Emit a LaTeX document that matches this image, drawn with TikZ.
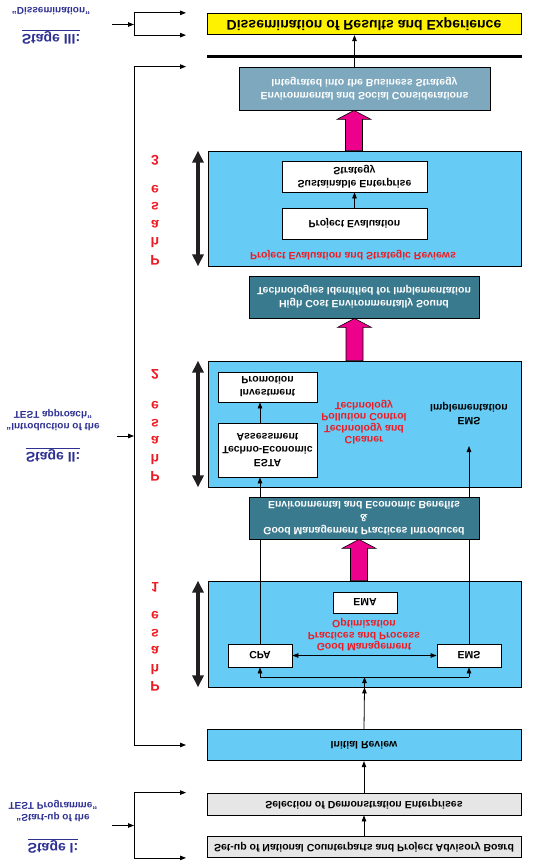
\documentclass[tikz,border=0pt]{standalone}
\usepackage{fontspec}
\setmainfont{Liberation Sans}
\usetikzlibrary{arrows.meta,calc}

\definecolor{skyblue}{RGB}{102,204,245}
\definecolor{tealbox}{RGB}{58,122,143}
\definecolor{socialgrey}{RGB}{125,168,190}
\definecolor{dissemyellow}{RGB}{255,242,0}
\definecolor{lightgrey}{RGB}{230,230,230}
\definecolor{stageblue}{RGB}{46,49,146}
\definecolor{phasered}{RGB}{237,28,36}
\definecolor{pinkarrow}{RGB}{236,0,140}
\definecolor{arrowgrey}{RGB}{35,31,32}

\tikzset{
  upsidedown/.style={yscale=-1},
  stepbox/.style={upsidedown,draw=black,line width=0.8pt,inner sep=0pt,align=center,
    font=\fontsize{10.5}{13}\selectfont\bfseries},
  phasebox/.style={stepbox,fill=skyblue},
  darkbox/.style={stepbox,fill=tealbox,text=white},
  whitebox/.style={stepbox,fill=white},
  plaintext/.style={upsidedown,align=center,inner sep=0pt,font=\fontsize{10.5}{13}\selectfont\bfseries},
  redtext/.style={plaintext,text=phasered,font=\fontsize{10.5}{11.5}\selectfont\bfseries},
  stagetitle/.style={plaintext,text=stageblue,font=\fontsize{14}{16}\selectfont\bfseries},
  stagesub/.style={plaintext,text=stageblue,font=\fontsize{10}{12}\selectfont\bfseries},
  phaselbl/.style={plaintext,text=phasered,font=\fontsize{14}{17.5}\selectfont\bfseries},
  arr/.style={-{Triangle[length=6pt,width=4.5pt]},line width=0.8pt},
  arrboth/.style={{Triangle[length=6pt,width=4.5pt]}-{Triangle[length=6pt,width=4.5pt]},line width=0.8pt},
  dblarr/.style={{Triangle[length=12pt,width=11pt]}-{Triangle[length=12pt,width=11pt]},line width=3.5pt,draw=arrowgrey},
}

% wide pink arrow from base #1 up to tip #2
\newcommand{\pinkup}[2]{%
  \filldraw[fill=pinkarrow,draw=black,line width=0.6pt]
    let \p1=(#1), \p2=(#2) in
    (\x2-8.5pt,\y1) -- (\x2-8.5pt,\y2-9pt) -- (\x2-17pt,\y2-9pt) -- (\x2,\y2)
    -- (\x2+17pt,\y2-9pt) -- (\x2+8.5pt,\y2-9pt) -- (\x2+8.5pt,\y1) -- cycle;}

\begin{document}
\begin{tikzpicture}[x=1pt,y=-1pt]
\useasboundingbox (0,0) rectangle (534,862);

% stage I
\node[stepbox,fill=lightgrey,minimum width=314pt,minimum height=21pt] (setup) at (364,847) {Set-up of National Counterparts and Project Advisory Board};
\node[stepbox,fill=lightgrey,minimum width=314pt,minimum height=22pt] (select) at (364,804) {Selection of Demonstration Enterprises};
\node[phasebox,minimum width=314pt,minimum height=31.5pt] (initrev) at (364,745) {Initial Review};

% phase 1
\node[phasebox,minimum width=313pt,minimum height=106pt] (ph1) at (364.5,634) {};
\node[whitebox,minimum width=64pt,minimum height=21pt] (ema) at (365,602.5) {EMA};
\node[redtext] (gmp) at (364,635) {Good Management\\Practices and Process\\Optimization};
\node[whitebox,minimum width=64pt,minimum height=23pt] (cpa) at (260,655.5) {CPA};
\node[whitebox,minimum width=64pt,minimum height=23pt] (ems) at (469,655.5) {EMS};
\node[darkbox,minimum width=230pt,minimum height=42pt] (goodmgmt) at (364,518) {Good Management Practices Introduced\\\&\\Environmental and Economic Benefits};

% phase 2
\node[phasebox,minimum width=313pt,minimum height=126pt] (ph2) at (364.5,424) {};
\node[whitebox,minimum width=99pt,minimum height=54pt] (esta) at (267.5,450) {ESTA\\Techno-Economic\\Assessment};
\node[whitebox,minimum width=99pt,minimum height=30pt] (invest) at (267.5,387) {Investment\\Promotion};
\node[redtext] (cleaner) at (364,422) {Cleaner\\Technology and\\Pollution Control\\Technology};
\node[plaintext] (emsimpl) at (469,414) {EMS\\Implementation};
\node[darkbox,minimum width=230pt,minimum height=42pt] (highcost) at (364,297) {High Cost Environmentally Sound\\Technologies Identified for Implementation};

% phase 3
\node[phasebox,minimum width=313pt,minimum height=115pt] (ph3) at (364.5,208.5) {};
\node[whitebox,minimum width=145pt,minimum height=31pt] (peval) at (354.5,223.5) {Project Evaluation};
\node[whitebox,minimum width=145pt,minimum height=31pt] (strat) at (354.5,176.5) {Sustainable Enterprise\\Strategy};
\node[redtext] (review) at (353,255) {Project Evaluation and Strategic Reviews};
\node[stepbox,fill=socialgrey,text=white,minimum width=251pt,minimum height=43pt] (social) at (364.5,88.5) {Environmental and Social Considerations\\Integrated into the Business Strategy};

% stage III
\node[stepbox,fill=dissemyellow,minimum width=314pt,minimum height=21.5pt,font=\fontsize{14}{16}\selectfont\bfseries] (dissem) at (364,24) {Dissemination of Results and Experience};
\coordinate (ruleL) at (207,56);
\coordinate (ruleR) at (522,56);
\draw[line width=3pt] (ruleL) -- (ruleR);

% flow
\draw[arr] (setup.south) -- (select.north);
\draw[arr] (select.south) -- (initrev.north);
\draw[arr] (initrev.south) -- (ph1.north);
\coordinate (bus) at (364.5,677);
\draw[arr] (ph1.north) -- (bus);
\draw (cpa |- bus) -- (ems |- bus);
\draw[arr] (cpa |- bus) -- (cpa.north);
\draw[arr] (ems |- bus) -- (ems.north);
\draw[arrboth] (cpa.east) -- (ems.west);
\draw[line width=0.8pt] (cpa.south) -- (cpa |- goodmgmt.north);
\draw[line width=0.8pt] (ems.south) -- (ems |- goodmgmt.north);
\draw[arr] (cpa |- goodmgmt.south) -- (cpa |- esta.north);
\coordinate (emsend) at (469,446);
\draw[arr] (ems |- goodmgmt.south) -- (emsend);
\draw[arr] (cpa |- esta.south) -- (cpa |- invest.north);
\draw[arr] (peval.south) -- (strat.north);
\draw[arr] ([xshift=-10pt]social.south) -- ([xshift=-10pt]social.south |- dissem.north);

\pinkup{[xshift=-5.5pt]ph1.south}{[xshift=-5pt]goodmgmt.north}
\pinkup{[xshift=-10pt]ph2.south}{[xshift=-9.5pt]highcost.north}
\pinkup{[xshift=-10pt]ph3.south}{[xshift=-10.5pt]social.north}

% phase labels
\coordinate (dblx) at (198,0);
\draw[dblarr] (dblx |- ph1.south) -- (dblx |- ph1.north);
\draw[dblarr] (dblx |- ph2.south) -- (dblx |- ph2.north);
\draw[dblarr] (dblx |- ph3.south) -- (dblx |- ph3.north);
\node[phaselbl] (p1lbl) at (155,637) {P\\h\\a\\s\\e\\[12pt]1};
\node[phaselbl] (p2lbl) at (155,425.5) {P\\h\\a\\s\\e\\[15pt]2};
\node[phaselbl] (p3lbl) at (155,210) {P\\h\\a\\s\\e\\[12pt]3};

% stage brackets
\coordinate (tipx) at (186,0);
\coordinate (br1) at (134,825.5);
\coordinate (st1in) at (112,825.5);
\draw[arr] (st1in) -- (br1);
\draw[arr] (br1) |- (tipx |- select.south);
\draw[arr] (br1) |- (tipx |- setup.north);
\coordinate (br2) at (134,436);
\coordinate (st2in) at (117,436);
\draw[arr] (st2in) -- (br2);
\draw[arr] (br2) |- (tipx |- social.south);
\draw[arr] (br2) |- (tipx |- initrev);
\coordinate (br3) at (134,24.5);
\coordinate (st3in) at (112,24.5);
\draw[arr] (st3in) -- (br3);
\draw[arr] (br3) |- (tipx |- dissem.south);
\draw[arr] (br3) |- (tipx |- dissem.north);

\node[stagetitle] (st1) at (53,846) {\underline{Stage I:}};
\node[stagesub] (st1txt) at (53,811) {“Start-up of the\\TEST Programme”};
\node[stagetitle] (st2) at (53,455) {\underline{Stage II:}};
\node[stagesub] (st2txt) at (53,420) {“Introduction of the\\TEST approach”};
\node[stagetitle] (st3) at (51,37) {\underline{Stage III:}};
\node[stagesub] (st3txt) at (51,11) {“Dissemination”};
\end{tikzpicture}
\end{document}
